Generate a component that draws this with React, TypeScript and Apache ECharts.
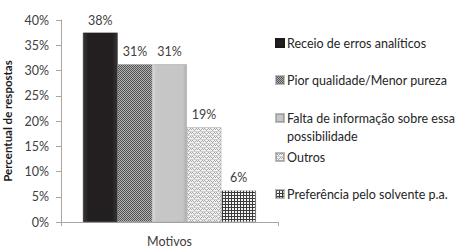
import React, { useEffect, useRef } from "react";
import * as echarts from "echarts";

const categories = ["Motivos"];
const seriesNames = [
  "Receio de erros analíticos",
  "Pior qualidade/Menor pureza",
  "Falta de informação sobre essa possibilidade",
  "Outros",
  "Preferência pelo solvente p.a.",
];
const legendLabels = [
  "Receio de erros analíticos",
  "Pior qualidade/Menor pureza",
  " \nFalta de informação sobre essa\npossibilidade",
  "Outros",
  "Preferência pelo solvente p.a.",
];
const seriesValues = [37.5, 31.25, 31.25, 18.75, 6.25];
const yTicks = { min: 0, max: 40, interval: 5 };
const legendCenters = [43, 80, 118, 157, 194];

const FONT = "Lato";

function makeCanvas(w: number, h: number, draw: (c: CanvasRenderingContext2D) => void) {
  const cv = document.createElement("canvas");
  cv.width = w;
  cv.height = h;
  const ctx = cv.getContext("2d")!;
  draw(ctx);
  return cv;
}

function patterns() {
  const cross = makeCanvas(4, 4, (c) => {
    c.fillStyle = "#b4b4b4";
    c.fillRect(0, 0, 4, 4);
    c.fillStyle = "#505050";
    c.fillRect(0, 0, 1, 1);
    c.fillRect(2, 0, 1, 1);
    c.fillRect(1, 1, 1, 1);
    c.fillRect(3, 1, 1, 1);
    c.fillRect(0, 2, 1, 1);
    c.fillRect(2, 2, 1, 1);
    c.fillRect(1, 3, 1, 1);
    c.fillRect(3, 3, 1, 1);
  });
  const zig = makeCanvas(6, 4, (c) => {
    c.fillStyle = "#f2f2f2";
    c.fillRect(0, 0, 6, 4);
    c.fillStyle = "#a8a8a8";
    c.fillRect(0, 0, 1, 1);
    c.fillRect(1, 1, 1, 1);
    c.fillRect(2, 2, 1, 1);
    c.fillRect(3, 1, 1, 1);
    c.fillRect(4, 0, 1, 1);
    c.fillRect(5, 1, 1, 1);
    c.fillStyle = "#d0d0d0";
    c.fillRect(0, 3, 6, 1);
  });
  const grid = makeCanvas(3, 3, (c) => {
    c.fillStyle = "#f4f4f4";
    c.fillRect(0, 0, 3, 3);
    c.fillStyle = "#3a3a3a";
    c.fillRect(0, 0, 3, 1);
    c.fillRect(0, 0, 1, 3);
  });
  return { cross, zig, grid };
}

export default function App() {
  const ref = useRef<HTMLDivElement>(null);
  useEffect(() => {
    if (!ref.current) return;
    const chart = echarts.init(ref.current, undefined, { renderer: "svg" });
    const p = patterns();
    const colors: any[] = [
      new echarts.graphic.LinearGradient(0, 0, 1, 0, [
        { offset: 0, color: "#3a3636" },
        { offset: 0.15, color: "#231f20" },
        { offset: 0.85, color: "#231f20" },
        { offset: 1, color: "#3a3636" },
      ]),
      { image: p.cross, repeat: "repeat" },
      new echarts.graphic.LinearGradient(0, 0, 1, 0, [
        { offset: 0, color: "#dadada" },
        { offset: 0.12, color: "#c6c6c6" },
        { offset: 0.88, color: "#c6c6c6" },
        { offset: 1, color: "#b0b0b0" },
      ]),
      { image: p.zig, repeat: "repeat" },
      { image: p.grid, repeat: "repeat" },
    ];
    const lh = 18;
    const legends = seriesNames.map((name, i) => {
      const lines = legendLabels[i].split("\n").length;
      const h = lh * lines;
      return {
        show: true,
        orient: "vertical",
        left: 275,
        top: legendCenters[i] - h / 2,
        padding: 0,
        itemWidth: 8,
        itemHeight: 8,
        itemGap: 0,
        icon: "rect",
        selectedMode: false,
        data: [name],
        formatter: () => legendLabels[i],
        textStyle: {
          fontFamily: FONT,
          fontSize: 12.5,
          color: "#262626",
          lineHeight: lh,
          padding: [0, 0, 0, -2],
        },
      };
    });
    chart.setOption({
      animation: false,
      textStyle: { fontFamily: FONT },
      legend: legends,
      grid: { left: 57, right: 191, top: 20, bottom: 30 },
      xAxis: {
        type: "category",
        data: categories,
        axisLine: { lineStyle: { color: "#a6a6a6" } },
        axisTick: { show: true, length: 4, lineStyle: { color: "#a6a6a6" } },
        axisLabel: { color: "#404040", fontSize: 12.5, margin: 13, fontFamily: FONT },
      },
      yAxis: {
        type: "value",
        min: yTicks.min,
        max: yTicks.max,
        interval: yTicks.interval,
        name: "Percentual de respostas",
        nameLocation: "middle",
        nameRotate: 90,
        nameGap: 48,
        nameTextStyle: { fontWeight: "bold", fontSize: 11.5, color: "#1a1a1a", fontFamily: FONT },
        axisLine: { show: true, lineStyle: { color: "#a6a6a6" } },
        axisTick: { show: true, length: 5, lineStyle: { color: "#a6a6a6" } },
        splitLine: { show: false },
        axisLabel: {
          formatter: "{value}%",
          color: "#404040",
          fontSize: 12.5,
          margin: 12,
          fontFamily: FONT,
        },
      },
      series: seriesNames.map((name, i) => ({
        type: "bar",
        name,
        data: [seriesValues[i]],
        barWidth: 34.6,
        barGap: "0%",
        itemStyle: { color: colors[i], borderColor: i === 0 ? "#1a1a1a" : "rgba(120,120,120,0.5)", borderWidth: 0.6 },
        label: {
          show: true,
          position: "top",
          distance: 6,
          formatter: (prm: any) => Math.round(prm.value) + "%",
          color: "#404040",
          fontSize: 12.5,
          fontFamily: FONT,
        },
      })),
    });
    return () => chart.dispose();
  }, []);
  return <div ref={ref} style={{ width: 469, height: 252, position: "absolute", left: 0, top: 0 }} />;
}
